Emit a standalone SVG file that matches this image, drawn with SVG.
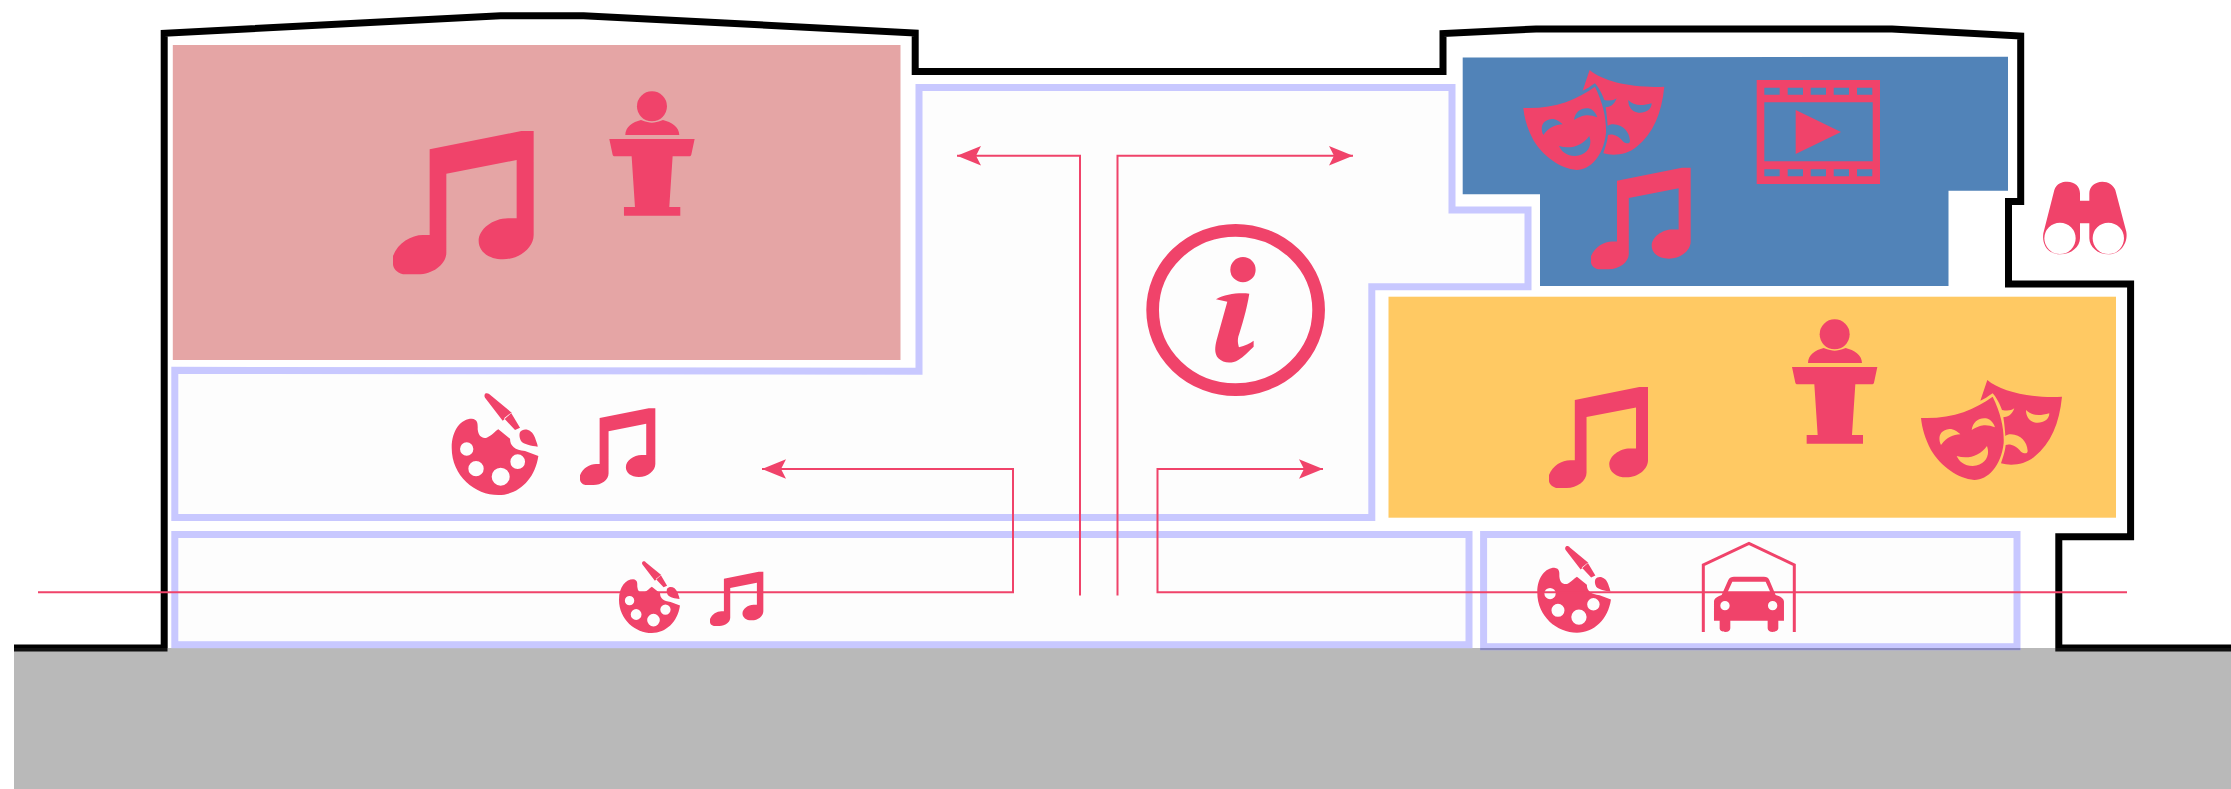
<svg xmlns="http://www.w3.org/2000/svg" width="2231" height="789" viewBox="0 0 2231 789">
<style>
.ic{fill:#f0436a;fill-rule:evenodd}
.zone{fill:#fdfdfd;stroke:#c8c8ff;stroke-width:7}
.link{fill:none;stroke:#f0436a;stroke-width:2}
</style>
<defs>
<marker id="arr" markerUnits="userSpaceOnUse" markerWidth="26" markerHeight="22" refX="24" refY="10" orient="auto"><path d="M24 10L0 .3 5 10 0 19.7Z" fill="#f0436a"/></marker>
<path id="note" d="M110 55L385 0H422V312C422 350 380 385 330 385C285 385 257 360 257 330C257 295 300 262 345 262H371V87L160 128V365C160 400 120 430 75 430H30C10 425 0 410 0 400V375C15 335 55 312 90 312H110Z"/>
<g id="podium"><circle cx="128" cy="43" r="45"/><path d="M48 129C48 105 70 90 95 84C110 90 120 92 128 92C136 92 146 90 161 84C186 90 210 105 210 129Z"/><path d="M0 141H256L246 188C245 192 242 193 240 193H190L180 345H213V371H44V345H77L67 193H16C14 193 11 192 10 188Z"/></g>
<path id="masks" d="M0 114C90 118 160 90 215 50C240 100 250 150 248 190C240 260 200 300 160 300C110 295 60 260 30 210C12 175 3 145 0 114ZM60 195C50 175 55 150 85 147C100 147 110 155 118 163C95 165 80 170 60 195ZM152 150C155 125 175 112 195 115C210 118 218 130 222 142C200 135 185 130 152 150ZM107 228C140 238 175 230 198 198C208 225 195 255 155 258C130 258 115 245 107 228ZM199 0C240 35 330 55 423 50C415 130 390 190 340 230C310 255 270 258 240 250C248 225 252 215 254 195C265 190 285 195 300 215C310 222 320 222 320 212C318 185 300 165 270 163C262 163 257 165 253 168C252 150 250 130 247 112C258 110 272 108 280 85C270 92 260 93 243 90C238 75 225 50 215 40C200 50 190 58 178 62ZM315 90C330 105 350 110 385 100C385 120 365 130 345 128C325 125 315 110 315 90Z"/>
<path id="palette" d="M0 165C0 110 30 78 60 78C80 80 78 95 78 110C80 130 90 138 105 135C120 130 130 115 140 110L175 138C175 160 190 172 220 175L260 190C250 260 200 307 140 307C70 307 0 250 0 165ZM25 169a20 20 0 1 0 40 0a20 20 0 1 0 -40 0ZM50 228a23 23 0 1 0 46 0a23 23 0 1 0 -46 0ZM120 252a27 27 0 1 0 54 0a27 27 0 1 0 -54 0ZM176 207a22 22 0 1 0 44 0a22 22 0 1 0 -44 0ZM102 2C108 0 112 3 115 6L180 60 153 84 100 15C97 10 98 5 102 2ZM157 77L178 60 205 105 190 112ZM205 118C215 105 240 108 250 135C255 150 258 155 258 162C240 160 215 155 208 145C203 135 202 125 205 118Z"/>
</defs>
<rect width="2231" height="789" fill="#fff"/>
<g id="building"><path d="M14 648H164.200V33.300L500.600 15.700H583.500L915.200 33V71.500H1443V33.500L1536 29H1892L2020.700 36V201.500H2008.500V284H2130.600V536.700H2058.800V648H2231" fill="#fff" stroke="#000" stroke-width="7"/></g>
<g id="ground"><rect x="14" y="648" width="2217" height="141" fill="#b9b9b9"/><path d="M14 648H167.500V651.500H14ZM2055.300 648H2231V651.500H2055.300Z" fill="#111"/></g>
<g id="zones">
<path id="zone-corridor" class="zone" d="M174.800 370.300L919 371.300V87.500H1452V210H1528V286.700H1371.800V517.500H174.800Z"/>
<rect id="zone-lower-left" class="zone" x="174.800" y="534.500" width="1294.200" height="110.200"/>
<rect id="zone-lower-right" class="zone" x="1483.600" y="534.500" width="533.400" height="112.200"/>
<rect x="1480.100" y="648" width="540.400" height="2.200" fill="#8a8abf"/>
</g>
<g id="room-red">
<rect x="172.800" y="45" width="727.700" height="315" fill="#e5a5a5"/>
<use href="#note" class="ic" transform="translate(393 131) scale(.3333)"/>
<use href="#podium" class="ic" transform="translate(609.300 92) scale(.3333)"/>
</g>
<g id="room-blue">
<path d="M1462.700 57.500L2008 56.700V190.700H1948.500V286H1540V194.300H1462.700Z" fill="#5183b8"/>
<use href="#masks" class="ic" transform="translate(1523.300 70) scale(.3333)"/>
<use href="#note" class="ic" transform="translate(1591 167.700) scale(.2362)"/>
<path class="ic" d="M1756.700 80H1880V184H1756.700ZM1764.300 102.300V161.300H1872.700V102.300ZM1764.300 87.700V94.700H1779.700V87.700ZM1787.700 87.700V94.700H1803V87.700ZM1810.700 87.700V94.700H1826V87.700ZM1833.700 87.700V94.700H1849V87.700ZM1857 87.700V94.700H1872.300V87.700ZM1764.300 169.300V176.300H1779.700V169.300ZM1787.700 169.300V176.300H1803V169.300ZM1810.700 169.300V176.300H1826V169.300ZM1833.700 169.300V176.300H1849V169.300ZM1857 169.300V176.300H1872.300V169.300Z"/>
<path class="ic" d="M1795.700 110L1841 132 1795.700 154Z"/>
</g>
<g id="room-yellow">
<rect x="1388.500" y="296.700" width="727.500" height="221" fill="#ffc963"/>
<use href="#note" class="ic" transform="translate(1549 387) scale(.2346)"/>
<use href="#podium" class="ic" transform="translate(1792 320) scale(.3333)"/>
<use href="#masks" class="ic" transform="translate(1921 380) scale(.3333)"/>
</g>
<g id="binoculars"><path class="ic" transform="translate(2020 170) scale(.3333)" d="M103 60C110 40 125 35 142 35C165 35 180 50 180 70V92H208V70C208 50 225 35 247 35C265 35 280 45 286 60L319 185C325 220 300 253 265 253C232 253 208 230 208 205V160H180V205C180 230 155 253 120 253C85 253 65 225 70 190ZM73 205a47 47 0 1 0 94 0a47 47 0 1 0 -94 0ZM218 205a47 47 0 1 0 94 0a47 47 0 1 0 -94 0Z"/></g>
<g id="info" transform="translate(930 120) scale(.3333)">
<ellipse cx="917" cy="570" rx="249" ry="239" fill="none" stroke="#f0436a" stroke-width="38"/>
<circle cx="939" cy="449" r="38" fill="#f0436a"/>
<path class="ic" d="M858 538C885 522 925 518 958 521C950 570 935 620 925 650C922 665 925 672 927 682C945 677 960 670 971 662L971 680C955 695 940 712 925 720C905 732 880 730 865 715C852 700 855 680 860 660L892 545Z"/>
</g>
<g id="icons-corridor">
<use href="#palette" class="ic" transform="translate(451.700 392.700) scale(.3333)"/>
<use href="#note" class="ic" transform="translate(580 408.300) scale(.1785)"/>
</g>
<g id="icons-lower-left">
<use href="#palette" class="ic" transform="translate(619 561) scale(.2346)"/>
<use href="#note" class="ic" transform="translate(710 571.700) scale(.1264)"/>
</g>
<g id="icons-lower-right">
<use href="#palette" class="ic" transform="translate(1537.300 545.700) scale(.2833)"/>
<g transform="translate(1510 530) scale(.3333)">
<path d="M580 306V105L717 40 853 105V306" fill="none" stroke="#f0436a" stroke-width="9"/>
<path class="ic" d="M612 215C612 205 625 198 635 195L655 150C658 143 665 140 672 140H762C770 140 775 143 778 150L797 195C810 198 822 205 822 215V272H805V295C805 302 795 306 788 306C780 306 773 302 773 295V272H661V295C661 302 655 306 646 306C637 306 629 302 629 295V272H612ZM652 188L667 155H767L782 188ZM631 227a14 14 0 1 0 28 0a14 14 0 1 0 -28 0ZM774 227a14 14 0 1 0 28 0a14 14 0 1 0 -28 0Z"/>
</g>
</g>
<g id="connectors">
<path class="link" marker-end="url(#arr)" d="M1080 595.500V155.700H957"/>
<path class="link" marker-end="url(#arr)" d="M1117.500 595.500V155.700H1353"/>
<path class="link" marker-end="url(#arr)" d="M38 592.300H1013V469H762"/>
<path class="link" marker-end="url(#arr)" d="M2127 592.300H1157.500V469H1323"/>
</g>
</svg>
